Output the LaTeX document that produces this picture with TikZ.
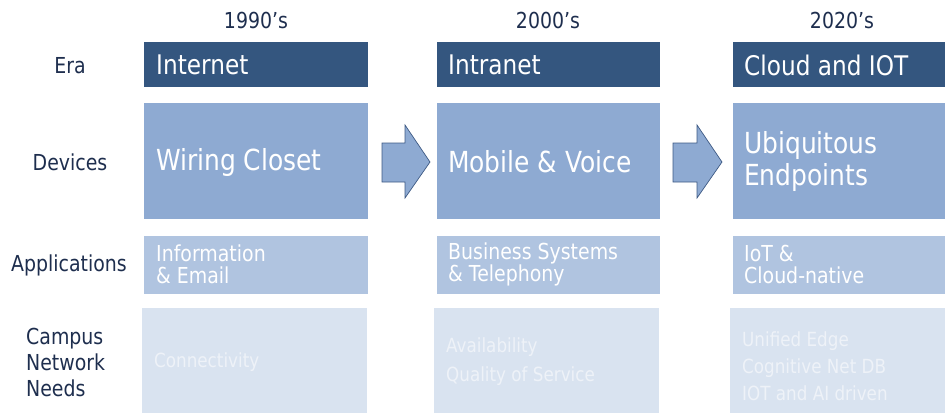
\documentclass[tikz,border=0pt]{standalone}
\usepackage{fontspec}
\setmainfont{DejaVu Sans}[FakeStretch=0.86]
\definecolor{eracol}{HTML}{34567F}
\definecolor{devcol}{HTML}{8EAAD2}
\definecolor{appcol}{HTML}{B0C4E0}
\definecolor{needcol}{HTML}{D9E3F0}
\definecolor{labcol}{HTML}{1E2E4E}
\definecolor{needtxt}{HTML}{EEF2F8}
\definecolor{arrowedge}{HTML}{3E5A84}
\tikzset{
  yearlbl/.style={font=\fontsize{22}{25}\selectfont, text=labcol, inner sep=0pt},
  rowlbl/.style={font=\fontsize{22}{26}\selectfont, text=labcol, inner sep=0pt, align=left},
  eratxt/.style={font=\fontsize{27}{31}\selectfont, text=white, inner sep=0pt, anchor=west},
  devtxt/.style={font=\fontsize{29}{32}\selectfont, text=white, inner sep=0pt, anchor=west, align=left},
  apptxt/.style={font=\fontsize{22}{22}\selectfont, text=white, inner sep=0pt, anchor=west, align=left},
  needtext/.style={font=\fontsize{19.5}{29}\selectfont, text=needtxt, inner sep=0pt, anchor=west, align=left},
  bigarrow/.style={fill=devcol, draw=arrowedge, line width=0.7pt, line join=miter}
}
\begin{document}
\begin{tikzpicture}[x=1pt,y=-1pt]
\useasboundingbox (0,0) rectangle (945,413);
% years
\node[yearlbl] (y1) at (256,20) {1990’s};
\node[yearlbl] (y2) at (548,20) {2000’s};
\node[yearlbl] (y3) at (842,20) {2020’s};
% row labels
\node[rowlbl] (lera) at (70,66) {Era};
\node[rowlbl] (ldev) at (70,162) {Devices};
\node[rowlbl] (lapp) at (69,265) {Applications};
\node[rowlbl, anchor=west] (lneed) at (26,362) {Campus\\Network\\Needs};
% column 1
\fill[eracol] (144,42) rectangle (368,87);
\fill[devcol] (144,103) rectangle (368,219);
\fill[appcol] (144,236) rectangle (368,294);
\fill[needcol] (142,308) rectangle (367,413);
% column 2
\fill[eracol] (437,42) rectangle (660,87);
\fill[devcol] (437,103) rectangle (660,219);
\fill[appcol] (437,236) rectangle (660,294);
\fill[needcol] (434,308) rectangle (659,413);
% column 3
\fill[eracol] (733,42) rectangle (945,87);
\fill[devcol] (733,103) rectangle (945,219);
\fill[appcol] (733,236) rectangle (945,294);
\fill[needcol] (730,308) rectangle (945,413);
% texts column 1
\node[eratxt] (e1) at (156,65) {Internet};
\node[devtxt] (d1) at (156,162) {Wiring Closet};
\node[apptxt] (a1) at (156,264) {Information\\\& Email};
\node[needtext] (n1) at (154,362) {Connectivity};
% texts column 2
\node[eratxt] (e2) at (448,65) {Intranet};
\node[devtxt] (d2) at (448,162) {Mobile \& Voice};
\node[apptxt] (a2) at (448,264) {Business Systems\\\& Telephony};
\node[needtext] (n2) at (446,362) {Availability\\Quality of Service};
% texts column 3
\node[eratxt] (e3) at (744,65) {Cloud and IOT};
\node[devtxt] (d3) at (744,161) {Ubiquitous\\Endpoints};
\node[apptxt] (a3) at (744,264) {IoT \&\\Cloud-native};
\node[needtext, font=\fontsize{19.5}{27}\selectfont] (n3) at (742,366) {Unified Edge\\Cognitive Net DB\\IOT and AI driven};
% arrows
\draw[bigarrow] (382,143) -- (405,143) -- (405,125) -- (430,162) -- (405,198) -- (405,182) -- (382,182) -- cycle;
\draw[bigarrow] (673,143) -- (697,143) -- (697,125) -- (722,162) -- (697,198) -- (697,182) -- (673,182) -- cycle;
\end{tikzpicture}
\end{document}
